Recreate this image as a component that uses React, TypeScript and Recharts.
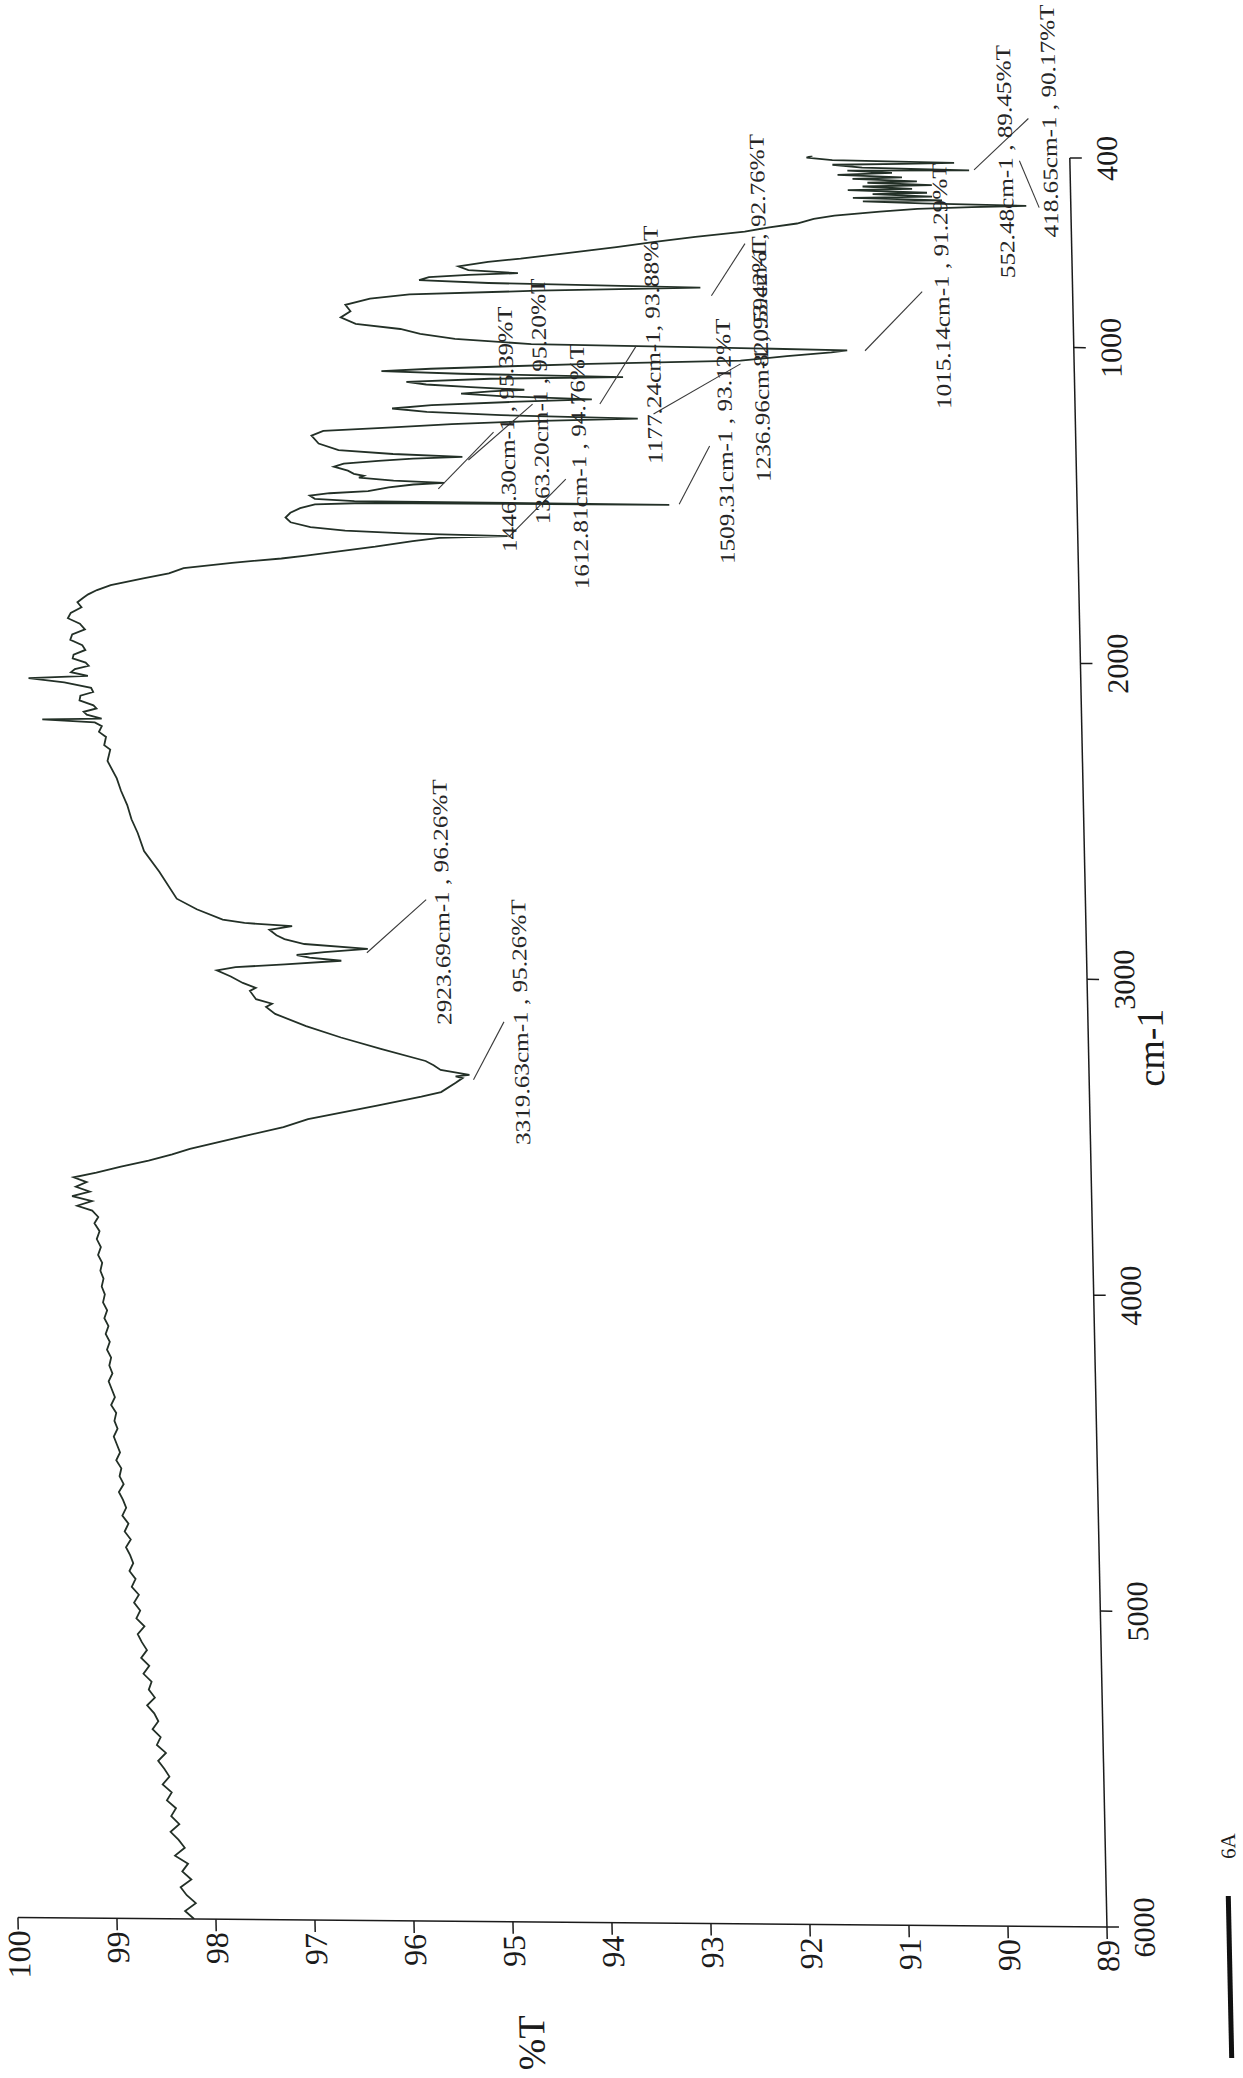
import React from "react"
import { Legend, Line, LineChart, ReferenceDot, ReferenceLine, XAxis, YAxis } from "recharts"

// spectrum (cm-1 and %T)
const wavenumber = [
  6000, 5975, 5950, 5925, 5900, 5875, 5850, 5825, 5800, 5775, 5750, 5725, 5700, 5675, 5650,
  5625, 5600, 5575, 5550, 5525, 5500, 5475, 5450, 5425, 5400, 5375, 5350, 5325, 5300, 5275,
  5250, 5225, 5200, 5175, 5150, 5125, 5100, 5075, 5050, 5025, 5000, 4975, 4950, 4925, 4900,
  4875, 4850, 4825, 4800, 4775, 4750, 4725, 4700, 4675, 4650, 4625, 4600, 4575, 4550, 4525,
  4500, 4475, 4450, 4425, 4400, 4375, 4350, 4325, 4300, 4275, 4250, 4225, 4200, 4175, 4150,
  4125, 4100, 4075, 4050, 4025, 4000, 3975, 3950, 3925, 3900, 3875, 3850, 3825, 3800, 3780,
  3760, 3745, 3730, 3715, 3700, 3685, 3670, 3655, 3640,
  3620, 3600, 3580, 3562, 3520, 3490, 3464, 3420, 3390, 3375, 3345, 3330, 3325, 3319.63,
  3305, 3290, 3277, 3240, 3205, 3170, 3132, 3110, 3100, 3086, 3060, 3050, 3035, 3015,
  2996, 2985, 2975, 2962, 2953, 2945, 2935, 2923.69, 2910, 2895, 2883, 2866, 2854, 2845, 2835,
  2803, 2770, 2685, 2620, 2563, 2520, 2475, 2430, 2391, 2336, 2300, 2286, 2260, 2244,
  2226, 2214, 2206, 2202, 2190, 2181, 2170, 2160, 2145, 2130, 2118, 2105, 2088, 2076,
  2067, 2056, 2046, 2035, 2025, 2012, 2000, 1985, 1970, 1953, 1936, 1920, 1902, 1885,
  1868, 1850, 1834, 1820, 1809, 1795, 1779, 1757, 1740, 1723, 1705, 1690, 1680, 1665,
  1650, 1631, 1620, 1612.81, 1607, 1600, 1590, 1575, 1560, 1545, 1530, 1518, 1512, 1509.31,
  1506, 1500, 1490, 1482, 1474, 1462, 1452, 1446.3, 1440, 1432, 1426, 1420, 1410, 1398,
  1388, 1378, 1370, 1363.2, 1356, 1345, 1325, 1300, 1285, 1272, 1260, 1248, 1236.96,
  1230, 1222, 1212, 1200, 1188, 1177.24, 1170, 1163, 1155, 1149, 1142, 1135, 1127,
  1115, 1106, 1100, 1094, 1085, 1075, 1065, 1051, 1035, 1022, 1015.14,
  1010, 1004, 990, 975, 960, 945, 925, 905, 885, 865, 850, 835, 820.59,
  812, 805, 795, 787, 780, 772, 760, 745, 734, 715, 695, 677, 660,
  642, 628, 615, 600, 589, 575, 565, 558, 552.48,
  548, 543, 538, 532, 526, 520, 514, 508, 502, 496, 490, 484,
  478, 472, 466, 460, 452, 446, 442, 436, 428, 423, 418.65, 413, 406, 400,
]

const transmittance = [
  98.22, 98.31, 98.2, 98.29, 98.35, 98.24, 98.33, 98.27, 98.4, 98.3, 98.36, 98.44, 98.35, 98.43, 98.38,
  98.47, 98.42, 98.51, 98.44, 98.49, 98.55, 98.47, 98.56, 98.52, 98.6, 98.54, 98.58, 98.65, 98.57, 98.63,
  98.6, 98.68, 98.62, 98.7, 98.64, 98.69, 98.73, 98.66, 98.74, 98.7, 98.76, 98.71, 98.78, 98.74, 98.8,
  98.76, 98.79, 98.83, 98.78, 98.84, 98.8, 98.86, 98.82, 98.85, 98.89, 98.84, 98.88, 98.86, 98.91, 98.87,
  98.9, 98.93, 98.89, 98.92, 98.9, 98.95, 98.91, 98.94, 98.97, 98.93, 98.96, 98.94, 98.98, 98.95, 98.99,
  98.96, 99.0, 98.97, 99.01, 98.99, 99.02, 99.0, 99.03, 99.01, 99.05, 99.02, 99.06, 99.03, 99.08, 99.04,
  99.1, 99.25, 99.1, 99.3, 99.12, 99.26, 99.15, 99.28, 99.05,
  98.8, 98.52, 98.28, 98.1, 97.55, 97.15, 96.9, 96.2, 95.75, 95.55, 95.4, 95.33, 95.4, 95.26,
  95.55, 95.62, 95.7, 96.15, 96.55, 96.9, 97.21, 97.3, 97.24, 97.4, 97.46, 97.4, 97.53, 97.65,
  97.79, 97.6, 97.1, 96.53, 96.85, 96.98, 96.7, 96.26, 96.9, 97.1, 97.18, 97.25, 97.02, 97.5, 97.72,
  97.98, 98.18, 98.35, 98.5, 98.56, 98.62, 98.66, 98.72, 98.76, 98.85, 98.82, 98.88, 98.86, 98.93,
  98.9, 98.97, 99.5, 98.9, 99.05, 99.08, 98.95, 98.98, 99.12, 99.11, 98.98, 99.0, 99.27, 99.63,
  99.03, 99.2, 99.16, 99.02, 99.05, 99.18, 99.17, 99.05, 99.08, 99.2, 99.18, 99.05, 99.1, 99.22,
  99.19, 99.08, 99.12, 99.06, 99.01, 98.92, 98.78, 98.45, 98.19, 98.04, 97.55, 97.05, 96.8, 96.45,
  96.1, 95.72, 95.45, 94.76, 95.8, 96.4, 96.75, 96.95, 97.0, 96.95, 96.85, 96.7, 96.2, 93.12,
  96.3, 96.7, 96.75, 96.55, 96.16, 95.95, 95.7, 95.39, 95.9, 96.25, 96.2, 96.3, 96.36, 96.5,
  96.4, 96.05, 95.7, 95.2, 95.9, 96.45, 96.65, 96.72, 96.6, 95.9, 95.3, 94.5, 93.42,
  94.8, 95.55, 95.9, 95.5, 94.7, 93.88, 94.8, 95.2, 94.9, 94.56, 95.1, 95.55, 95.75,
  94.9, 93.56, 95.2, 96.0, 95.5, 94.7, 93.9, 92.37, 91.9, 91.45, 91.29,
  92.6, 94.48, 95.25, 95.6, 95.8, 96.25, 96.4, 96.3, 96.35, 96.1, 95.7, 94.4, 92.76,
  94.9, 95.6, 95.5, 95.1, 94.6, 95.1, 95.2, 94.9, 94.57, 94.1, 93.6, 93.21, 92.8,
  92.3, 92.05, 91.77, 91.6, 91.39, 90.93, 90.55, 90.0, 89.45,
  90.5, 91.1, 90.3, 91.2, 90.4, 91.0, 90.45, 91.25, 90.6, 91.1, 90.4, 91.05,
  90.55, 91.2, 90.7, 91.35, 90.8, 91.25, 90.02, 91.1, 91.4, 90.7, 90.17, 91.4, 91.66, 91.6,
]

// labelled peaks
const peakText = [
  "3319.63cm-1 , 95.26%T",
  "2923.69cm-1 , 96.26%T",
  "1446.30cm-1 , 95.39%T",
  "1363.20cm-1 , 95.20%T",
  "1612.81cm-1 , 94.76%T",
  "1177.24cm-1, 93.88%T",
  "1509.31cm-1 , 93.12%T",
  "1236.96cm-1 , 93.42%T",
  "820.59cm-1 , 92.76%T",
  "1015.14cm-1 , 91.29%T",
  "552.48cm-1 , 89.45%T",
  "418.65cm-1 , 90.17%T",
]

const wavenumberTicks = [6000, 5000, 4000, 3000, 2000, 1000, 400]
const transmittanceTicks = [100, 99, 98, 97, 96, 95, 94, 93, 92, 91, 90, 89]

// where the label text starts and where its leader line runs (axis units)
const labelSpots = [
  { wn: 3540, t: 94.66, fromWn: 3335, fromT: 95.22, toWn: 3151, toT: 94.9 },
  { wn: 3162, t: 95.43, fromWn: 2936, fromT: 96.27, toWn: 2766, toT: 95.66 },
  { wn: 1663, t: 94.67, fromWn: 1465, fromT: 95.45, toWn: 1284, toT: 94.88 },
  { wn: 1574, t: 94.33, fromWn: 1373, fromT: 95.14, toWn: 1194, toT: 94.48 },
  { wn: 1779, t: 93.95, fromWn: 1616, fromT: 94.75, toWn: 1431, toT: 94.16 },
  { wn: 1380, t: 93.18, fromWn: 1192, fromT: 93.8, toWn: 1007, toT: 93.42 },
  { wn: 1695, t: 92.47, fromWn: 1507, fromT: 93.02, toWn: 1322, toT: 92.7 },
  { wn: 1434, t: 92.09, fromWn: 1222, fromT: 93.26, toWn: 1061, toT: 92.37 },
  { wn: 1070, t: 92.09, fromWn: 846, fromT: 92.65, toWn: 680, toT: 92.3 },
  { wn: 1198, t: 90.25, fromWn: 1016, fromT: 91.11, toWn: 827, toT: 90.52 },
  { wn: 782, t: 89.58, fromWn: 440, fromT: 89.97, toWn: 276, toT: 89.41 },
  { wn: 652, t: 89.13, fromWn: 410, fromT: 89.51, toWn: 558, toT: 89.32 },
]

const data = wavenumber.map((wn, i) => ({ wn, t: transmittance[i] }))

const serif = '"Liberation Serif", "Times New Roman", Times, serif'
const ink = "#1b1b1b"

const cmTitle = (props: any) => {
  const vb = props.viewBox || { x: 151, y: 1107 }
  return (
    <text x={vb.x + 880} y={vb.y + 75} textAnchor="middle" fontSize={38} fontFamily={serif} fill={ink}>
      cm-1
    </text>
  )
}

const percentTitle = (props: any) => {
  const vb = props.viewBox || { x: 0, y: 18 }
  return (
    <text x={vb.x + 30} y={vb.y + 524} textAnchor="middle" fontSize={38} fontFamily={serif} fill={ink}>
      %T
    </text>
  )
}

const peakShape = (text: string) => (p: any) => (
  <text
    transform={`translate(${p.cx},${p.cy}) scale(1.2,1)`}
    fontSize={21}
    fontFamily={serif}
    fill="#262626"
  >
    {text}
  </text>
)

const LegendMark = (props: any) => {
  const name = props.payload && props.payload[0] ? props.payload[0].value : "6A"
  return (
    <svg width={2078} height={1243} style={{ position: "absolute", left: 0, top: 0 }}>
      <line x1={21} x2={183} y1={1229} y2={1229} stroke="#111" strokeWidth={5} />
      <text x={233} y={1237} textAnchor="middle" fontSize={21} fontFamily={serif} fill={ink}>
        {name}
      </text>
    </svg>
  )
}

export default function App() {
  return (
    <div
      style={{
        position: "absolute",
        left: 0,
        top: 0,
        width: 1243,
        height: 2078,
        overflow: "hidden",
        background: "#fff",
      }}
    >
      {/* the scan is slightly sheared */}
      <div
        style={{
          position: "absolute",
          left: 0,
          top: 0,
          width: 1243,
          height: 2078,
          transformOrigin: "1106px 1929px",
          transform: "matrix(1, 0.0088, 0.021, 1, 0, 0)",
        }}
      >
        {/* chart drawn landscape, then turned a quarter turn */}
        <div
          style={{
            position: "absolute",
            left: 0,
            top: 0,
            width: 2078,
            height: 1243,
            transformOrigin: "0 0",
            transform: "translateY(2078px) rotate(-90deg)",
          }}
        >
          <LineChart width={2078} height={1243} data={data} margin={{ top: 18, right: 158, bottom: 0, left: 0 }}>
            <XAxis
              dataKey="wn"
              type="number"
              domain={[400, 6000]}
              reversed
              allowDataOverflow
              ticks={wavenumberTicks}
              interval={0}
              height={136}
              tickSize={12}
              tickMargin={14}
              stroke={ink}
              strokeWidth={1.5}
              tick={{ fontSize: 30, fill: ink, fontFamily: serif }}
              label={cmTitle}
            />
            <YAxis
              type="number"
              domain={[89, 100]}
              allowDataOverflow
              ticks={transmittanceTicks}
              interval={0}
              width={151}
              tickSize={12}
              tickMargin={1}
              stroke={ink}
              strokeWidth={1.5}
              tick={{ fontSize: 32, fill: ink, fontFamily: serif }}
              label={percentTitle}
            />
            <Line
              dataKey="t"
              name="6A"
              type="linear"
              stroke="#233027"
              strokeWidth={1.8}
              dot={false}
              activeDot={false}
              isAnimationActive={false}
            />
            {labelSpots.map((s, i) => (
              <ReferenceLine
                key={"leader" + i}
                segment={[
                  { x: s.fromWn, y: s.fromT },
                  { x: s.toWn, y: s.toT },
                ]}
                stroke="#3a3a3a"
                strokeWidth={1.1}
                ifOverflow="visible"
              />
            ))}
            {labelSpots.map((s, i) => (
              <ReferenceDot
                key={"label" + i}
                x={s.wn}
                y={s.t}
                r={0}
                ifOverflow="visible"
                shape={peakShape(peakText[i])}
              />
            ))}
            <Legend
              layout="horizontal"
              verticalAlign="middle"
              align="center"
              wrapperStyle={{ left: 0, top: 0, width: 2078, height: 1243, pointerEvents: "none" }}
              content={(props: any) => <LegendMark payload={props.payload} />}
            />
          </LineChart>
        </div>
      </div>
    </div>
  )
}
